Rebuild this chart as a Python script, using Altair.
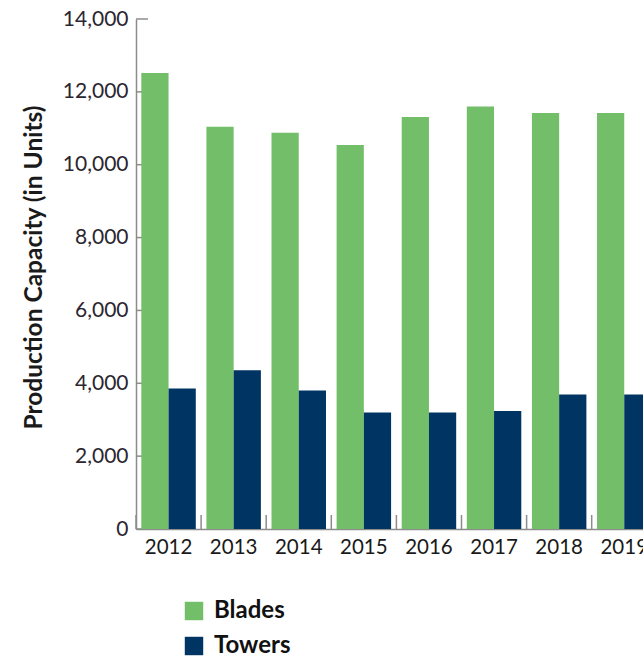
import altair as alt
import pandas as pd

years = ["2012", "2013", "2014", "2015", "2016", "2017", "2018", "2019"]
blades = [12520, 11040, 10880, 10540, 11310, 11600, 11420, 11420]
towers = [3860, 4360, 3800, 3200, 3200, 3240, 3690, 3690]
series = ["Blades", "Towers"]
colors = ["#73bf69", "#003462"]
y_ticks = [0, 2000, 4000, 6000, 8000, 10000, 12000, 14000]

rows = []
for i, yr in enumerate(years):
    rows.append({"year": yr, "series": "Blades", "value": blades[i]})
    rows.append({"year": yr, "series": "Towers", "value": towers[i]})
df = pd.DataFrame(rows)
tick_df = pd.DataFrame({"v": y_ticks})
year_df = pd.DataFrame({"year": years})

W = 507
H = 510
STEP = 65.1
FONT = "Lato"

xscale = alt.Scale(domain=years, range=[0, STEP * len(years)], paddingInner=0, paddingOuter=0)
yscale = alt.Scale(domain=[0, 14000], nice=False)

ytick_layer = alt.Chart(tick_df).mark_rule(color="#8c8c8c", strokeWidth=1.5).encode(
    y=alt.Y("v:Q", scale=yscale,
            axis=alt.Axis(values=y_ticks, format=",d", tickSize=0, labelPadding=8,
                          labelFont=FONT, labelFontSize=21, labelColor="#2b2630",
                          domainColor="#8c8c8c", domainWidth=1.5,
                          title="Production Capacity (in Units)", titleFont=FONT,
                          titleFontSize=24.5, titleFontWeight="bold", titleColor="#1a1a1a",
                          titlePadding=16, titleY=248, grid=False)),
    x=alt.value(0),
    x2=alt.value(12),
)

xtick_layer = alt.Chart(year_df).mark_rule(color="#8c8c8c", strokeWidth=1.5).encode(
    x=alt.X("year:N", scale=xscale, bandPosition=0,
            axis=alt.Axis(title=None, labelAngle=0, tickSize=0, labelPadding=8,
                          labelFont=FONT, labelFontSize=20.5, labelColor="#1a1a1a",
                          domainColor="#8c8c8c", domainWidth=1.5)),
    y=alt.value(H - 14),
    y2=alt.value(H),
)

bars = alt.Chart(df).mark_bar().encode(
    x=alt.X("year:N", scale=xscale),
    xOffset=alt.XOffset("series:N", scale=alt.Scale(domain=series, paddingInner=0, paddingOuter=0.195)),
    y=alt.Y("value:Q", scale=yscale),
    color=alt.Color("series:N", scale=alt.Scale(domain=series, range=colors),
                    legend=alt.Legend(title=None, orient="none", legendX=46, legendY=580,
                                      symbolType="square", symbolSize=340, symbolStrokeWidth=0,
                                      labelFont=FONT, labelFontSize=24, labelFontWeight="bold",
                                      labelColor="#111111", labelOffset=8, rowPadding=11)),
)

chart = alt.layer(ytick_layer, xtick_layer, bars).properties(
    width=W, height=H,
    autosize=alt.AutoSizeParams(type="none"),
    padding={"left": 136, "top": 19, "right": 0, "bottom": 130},
).configure_view(stroke=None).configure_axis(ticks=False)

chart.save("out.html", embed_options={"renderer": "svg", "actions": False})
